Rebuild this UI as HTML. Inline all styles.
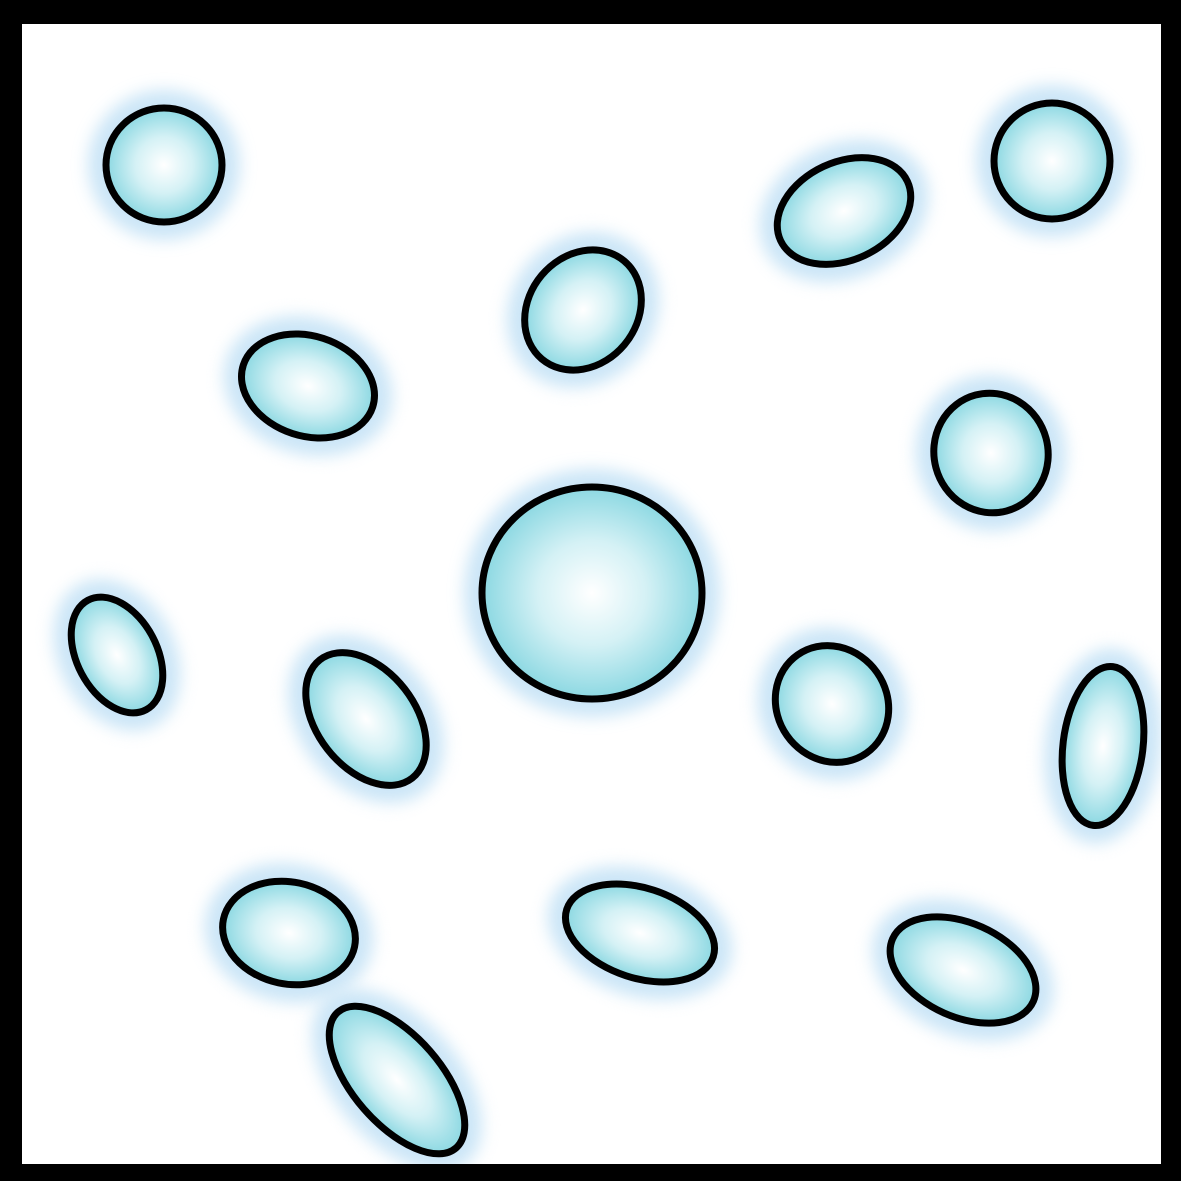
<!DOCTYPE html>
<html><head><meta charset="utf-8"><style>
html,body{margin:0;padding:0;background:#000;}
svg{display:block;}
</style></head><body>
<svg id="scene" width="1181" height="1181" viewBox="0 0 1181 1181" xmlns="http://www.w3.org/2000/svg">
<defs>
<radialGradient id="fillg" cx="50%" cy="50%" r="55%">
<stop offset="0" stop-color="#ffffff"/>
<stop offset="0.45" stop-color="#d4f1f5"/>
<stop offset="1" stop-color="#7dd3de"/>
</radialGradient>
<filter id="blur" x="-50%" y="-50%" width="200%" height="200%"><feGaussianBlur stdDeviation="8"/></filter>
<clipPath id="inner"><rect x="22" y="24" width="1139" height="1140"/></clipPath>
</defs>
<rect x="0" y="0" width="1181" height="1181" fill="#000"/>
<rect x="22" y="24" width="1139" height="1140" fill="#fff"/>
<g id="cells" clip-path="url(#inner)"></g>
</svg>
<script>
const cx=[164,844,1052,583,308,991,592,117,366,832,1103,289,640,963,397];
const cy=[165,211,161,310,386,453,593,655,719,704,746,933,933,970,1080];
const rx=[58,70,58,64,68,57,110,62,75,60,80,67,77,77,90];
const ry=[57,49,58,54,50,60,106,40,49,55,40,51,45,47,44];
const rot=[0,-25,0,-50,18,-15,0,62,52,55,97,12,18,24,49];
const g=document.getElementById('cells');
const NS='http://www.w3.org/2000/svg';
for(let i=0;i<cx.length;i++){
  const grp=document.createElementNS(NS,'g');
  
  
  grp.setAttribute('transform',`translate(${cx[i]},${cy[i]}) rotate(${rot[i]})`);
  const halo=document.createElementNS(NS,'ellipse');
  
  
  halo.setAttribute('rx',rx[i]+18);halo.setAttribute('ry',ry[i]+18);
  halo.setAttribute('fill','#c6e3f6');halo.setAttribute('filter','url(#blur)');
  halo.setAttribute('opacity','0.9');
  grp.appendChild(halo);
  const body=document.createElementNS(NS,'ellipse');
  
  
  body.setAttribute('rx',rx[i]);body.setAttribute('ry',ry[i]);
  body.setAttribute('fill','url(#fillg)');body.setAttribute('stroke','#000');
  body.setAttribute('stroke-width','7');
  grp.appendChild(body);
  g.appendChild(grp);
}
</script>
</body></html>
